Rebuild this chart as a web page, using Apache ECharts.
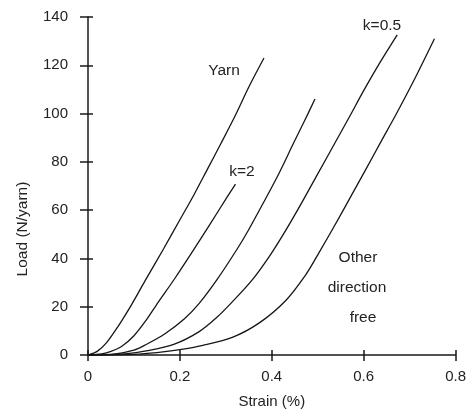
<!DOCTYPE html>
<html>
<head>
<meta charset="utf-8">
<script src="https://cdn.jsdelivr.net/npm/echarts@6/dist/echarts.min.js"></script>
<style>html,body{margin:0;padding:0;background:#fff}#c{width:469px;height:414px}</style>
</head>
<body>
<div id="c"></div>
<script>
var xTicks = [0, 0.2, 0.4, 0.6, 0.8];
var yTicks = [0, 20, 40, 60, 80, 100, 120, 140];

var yarnStrain = [0, 0.02, 0.04, 0.066, 0.091, 0.125, 0.163, 0.2, 0.231, 0.26, 0.289, 0.32, 0.35, 0.383];
var yarnLoad   = [0, 1.5, 5, 12, 19.6, 31, 43.5, 56, 66.5, 77, 87.5, 99, 111, 123];

var k2Strain = [0, 0.03, 0.05, 0.073, 0.1, 0.125, 0.148, 0.19, 0.228, 0.265, 0.303, 0.321];
var k2Load   = [0, 0.5, 1.5, 3.5, 8, 14, 20.5, 32, 43, 54, 65.5, 70.8];

var k1Strain = [0, 0.06, 0.1, 0.123, 0.166, 0.21, 0.242, 0.28, 0.325, 0.35, 0.383, 0.415, 0.448, 0.47, 0.494];
var k1Load   = [0, 0.5, 2, 4, 8.6, 15, 21.4, 31, 44, 52, 63.5, 75, 88, 96.5, 106];

var k05Strain = [0, 0.08, 0.13, 0.188, 0.242, 0.28, 0.314, 0.357, 0.397, 0.43, 0.465, 0.5, 0.538, 0.57, 0.6, 0.635, 0.673];
var k05Load   = [0, 0.5, 1.8, 4.5, 9.7, 15.5, 22, 31, 41.5, 51.5, 63, 75, 88, 99, 109.5, 121, 132.6];

var freeStrain = [0, 0.1, 0.15, 0.2, 0.25, 0.314, 0.372, 0.43, 0.473, 0.5, 0.535, 0.573, 0.605, 0.638, 0.67, 0.71, 0.754];
var freeLoad   = [0, 0.3, 1, 2.2, 4, 7.3, 13.2, 22.5, 33, 41.5, 53, 66, 77, 88.5, 99.5, 114, 131];

function pairs(xs, ys) { return xs.map(function (x, i) { return [x, ys[i]]; }); }

var lineStyle = { color: '#161616', width: 1.3 };
function mk(name, xs, ys) {
  return { name: name, type: 'line', data: pairs(xs, ys), showSymbol: false, symbol: 'none',
           lineStyle: lineStyle, smooth: 0.3, animation: false, xAxisIndex: 0, yAxisIndex: 0 };
}

var font = 'Liberation Sans, Arial, sans-serif';
var chart = echarts.init(document.getElementById('c'), null, { renderer: 'canvas' });
var xCommon = { type: 'value', min: xTicks[0], max: xTicks[xTicks.length - 1], interval: 0.2, splitLine: { show: false } };
var yCommon = { type: 'value', min: yTicks[0], max: yTicks[yTicks.length - 1], interval: 20, splitLine: { show: false } };

function txt(t, x, y) {
  return { type: 'text', x: x, y: y, style: { text: t, fill: '#222', font: '15.5px ' + font, textAlign: 'center', textVerticalAlign: 'middle' } };
}

chart.setOption({
  animation: false,
  grid: { left: 88, right: 11, top: 17, bottom: 57 },
  xAxis: [
    Object.assign({}, xCommon, {
      axisLine: { lineStyle: { color: '#1a1a1a', width: 1.5 } },
      axisTick: { length: 6, lineStyle: { color: '#1a1a1a', width: 1.5 } },
      axisLabel: { color: '#222', fontSize: 15, fontFamily: font, margin: 14,
        formatter: function (v) { return v === 0 ? '0' : String(+v.toFixed(1)); } },
      name: 'Strain (%)', nameLocation: 'middle', nameGap: 39,
      nameTextStyle: { color: '#222', fontSize: 15, fontFamily: font }
    }),
    Object.assign({}, xCommon, {
      position: 'bottom', axisLine: { show: false }, axisLabel: { show: false },
      axisTick: { inside: true, length: 5, lineStyle: { color: '#1a1a1a', width: 1.5 } }
    })
  ],
  yAxis: [
    Object.assign({}, yCommon, {
      axisLine: { lineStyle: { color: '#1a1a1a', width: 1.5 } },
      axisTick: { length: 8, lineStyle: { color: '#1a1a1a', width: 1.5 } },
      axisLabel: { color: '#222', fontSize: 15, fontFamily: font, margin: 20 }
    }),
    Object.assign({}, yCommon, {
      position: 'left', axisLine: { show: false }, axisLabel: { show: false },
      axisTick: { inside: true, length: 5, lineStyle: { color: '#1a1a1a', width: 1.5 } }
    })
  ],
  series: [
    mk('Yarn', yarnStrain, yarnLoad),
    mk('k=2', k2Strain, k2Load),
    mk('k=1', k1Strain, k1Load),
    mk('k=0.5', k05Strain, k05Load),
    mk('Other direction free', freeStrain, freeLoad)
  ],
  graphic: [
    { type: 'text', x: 23, y: 229, rotation: Math.PI / 2, style: { text: 'Load (N/yarn)', fill: '#222', font: '15.5px ' + font, textAlign: 'center', textVerticalAlign: 'middle' } },
    txt('Yarn', 224, 71),
    txt('k=2', 242, 172),
    txt('k=0.5', 382, 26),
    txt('Other', 358, 258),
    txt('direction', 357, 288),
    txt('free', 363, 318)
  ]
});
</script>
</body>
</html>
